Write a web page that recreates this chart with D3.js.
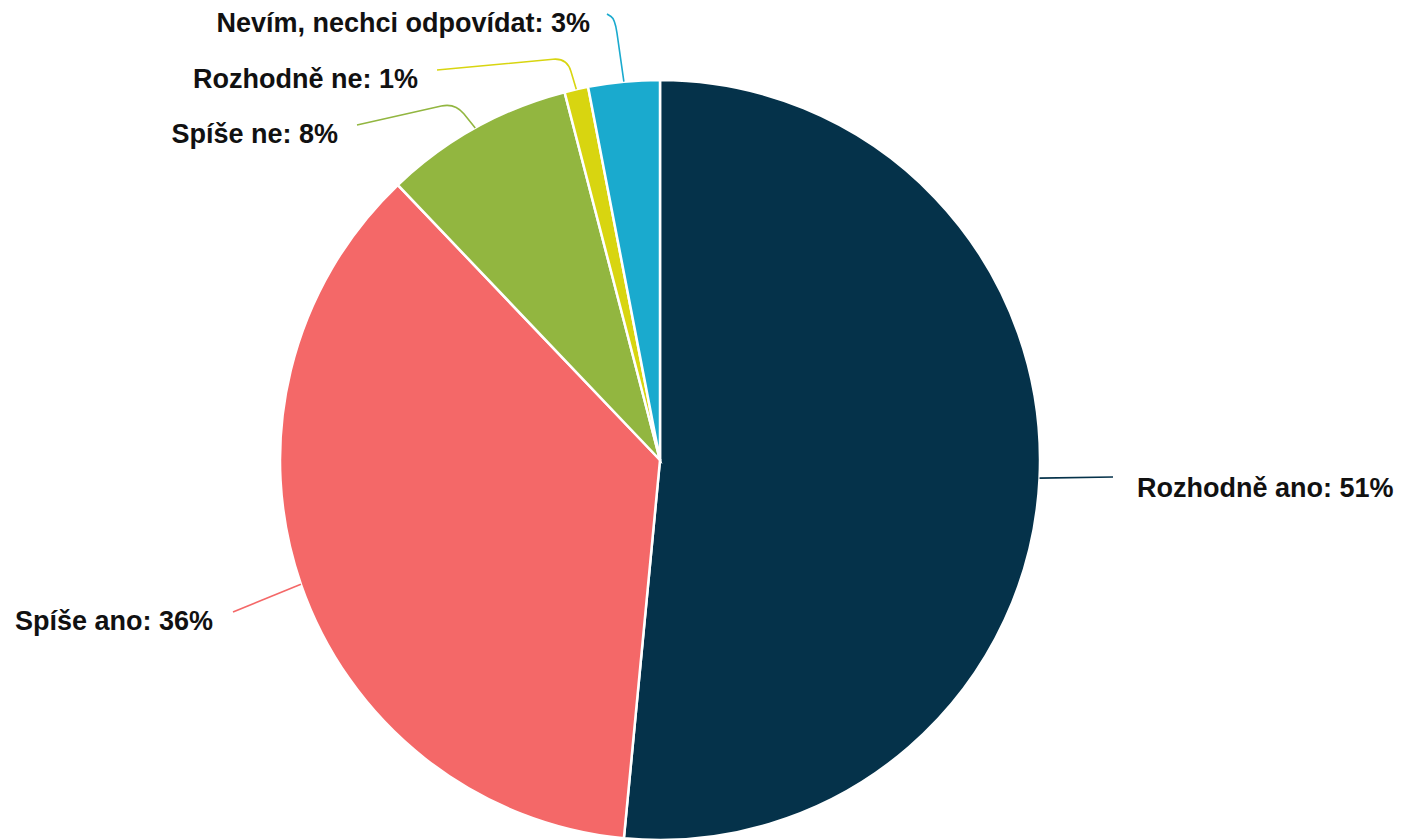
<!DOCTYPE html>
<html>
<head>
<meta charset="utf-8">
<script src="https://cdn.jsdelivr.net/npm/d3@7"></script>
<style>
  body { margin: 0; background: #fff; }
  text { font-family: "Liberation Sans", Arial, sans-serif; font-weight: bold; }
</style>
</head>
<body>
<div id="pie"></div>
<script>
// data
const categories = ["Rozhodně ano", "Spíše ano", "Spíše ne", "Rozhodně ne", "Nevím, nechci odpovídat"];
const values = [51, 36, 8, 1, 3];
const colors = ["#05324a", "#f46868", "#92b640", "#d8d510", "#1aaace"];

// label layout, relative to pie centre (elbow = null for straight leaders)
const labelLayout = [
  { end: [453, 17], elbow: null, tx: 477, ty: 27, anchor: "start" },
  { end: [-427, 152], elbow: null, tx: -447, ty: 160, anchor: "end" },
  { end: [-303, -335], elbow: [-205, -357], tx: -322, ty: -327, anchor: "end" },
  { end: [-223, -390], elbow: [-93, -402], tx: -242, ty: -382, anchor: "end" },
  { end: [-53, -446], elbow: [-45, -441], tx: -70, ty: -438, anchor: "end" }
];

const width = 1405, height = 839;
const cx = 660, cy = 460, radius = 380;
const fontSize = 27;

let svg = d3.select("#pie")
  .append("svg")
  .attr("width", width)
  .attr("height", height);

let g = svg.append("g")
  .attr("transform", `translate(${cx},${cy})`);

let rows = categories.map((c, i) => ({ name: c, value: values[i], color: colors[i], layout: labelLayout[i] }));

let pie = d3.pie().sort(null).value((d) => d.value);
let arcs = pie(rows);

let arc = d3.arc().innerRadius(0).outerRadius(radius);
// point on the rim at the middle of each slice
let rim = d3.arc().innerRadius(radius * 2).outerRadius(0);

g.selectAll(".slice")
  .data(arcs)
  .enter()
  .append("path")
    .attr("class", "slice")
    .attr("d", arc)
    .attr("fill", (d) => d.data.color)
    .attr("stroke", "#fff")
    .attr("stroke-width", 2.5);

// leader line with a rounded corner at the elbow
function leader(d) {
  let p0 = rim.centroid(d);
  let L = d.data.layout;
  let p2 = L.end;
  if (!L.elbow) return `M${p0}L${p2}`;
  let e = L.elbow;
  let toward = (a, b, t) => {
    let dx = b[0] - a[0], dy = b[1] - a[1];
    let len = Math.hypot(dx, dy);
    let k = Math.min(t, len / 2) / len;
    return [a[0] + dx * k, a[1] + dy * k];
  };
  let a = toward(e, p0, 14);
  let b = toward(e, p2, 14);
  return `M${p0}L${a}Q${e} ${b}L${p2}`;
}

g.selectAll(".leader")
  .data(arcs)
  .enter()
  .append("path")
    .attr("class", "leader")
    .attr("d", leader)
    .attr("fill", "none")
    .attr("stroke", (d) => d.data.color)
    .attr("stroke-width", 1.6);

g.selectAll(".label")
  .data(arcs)
  .enter()
  .append("text")
    .attr("class", "label")
    .attr("x", (d) => d.data.layout.tx)
    .attr("y", (d) => d.data.layout.ty + fontSize * 0.36)
    .attr("text-anchor", (d) => d.data.layout.anchor)
    .attr("font-size", fontSize + "px")
    .attr("fill", "#111")
    .text((d) => d.data.name + ": " + d.data.value + "%");
</script>
</body>
</html>
